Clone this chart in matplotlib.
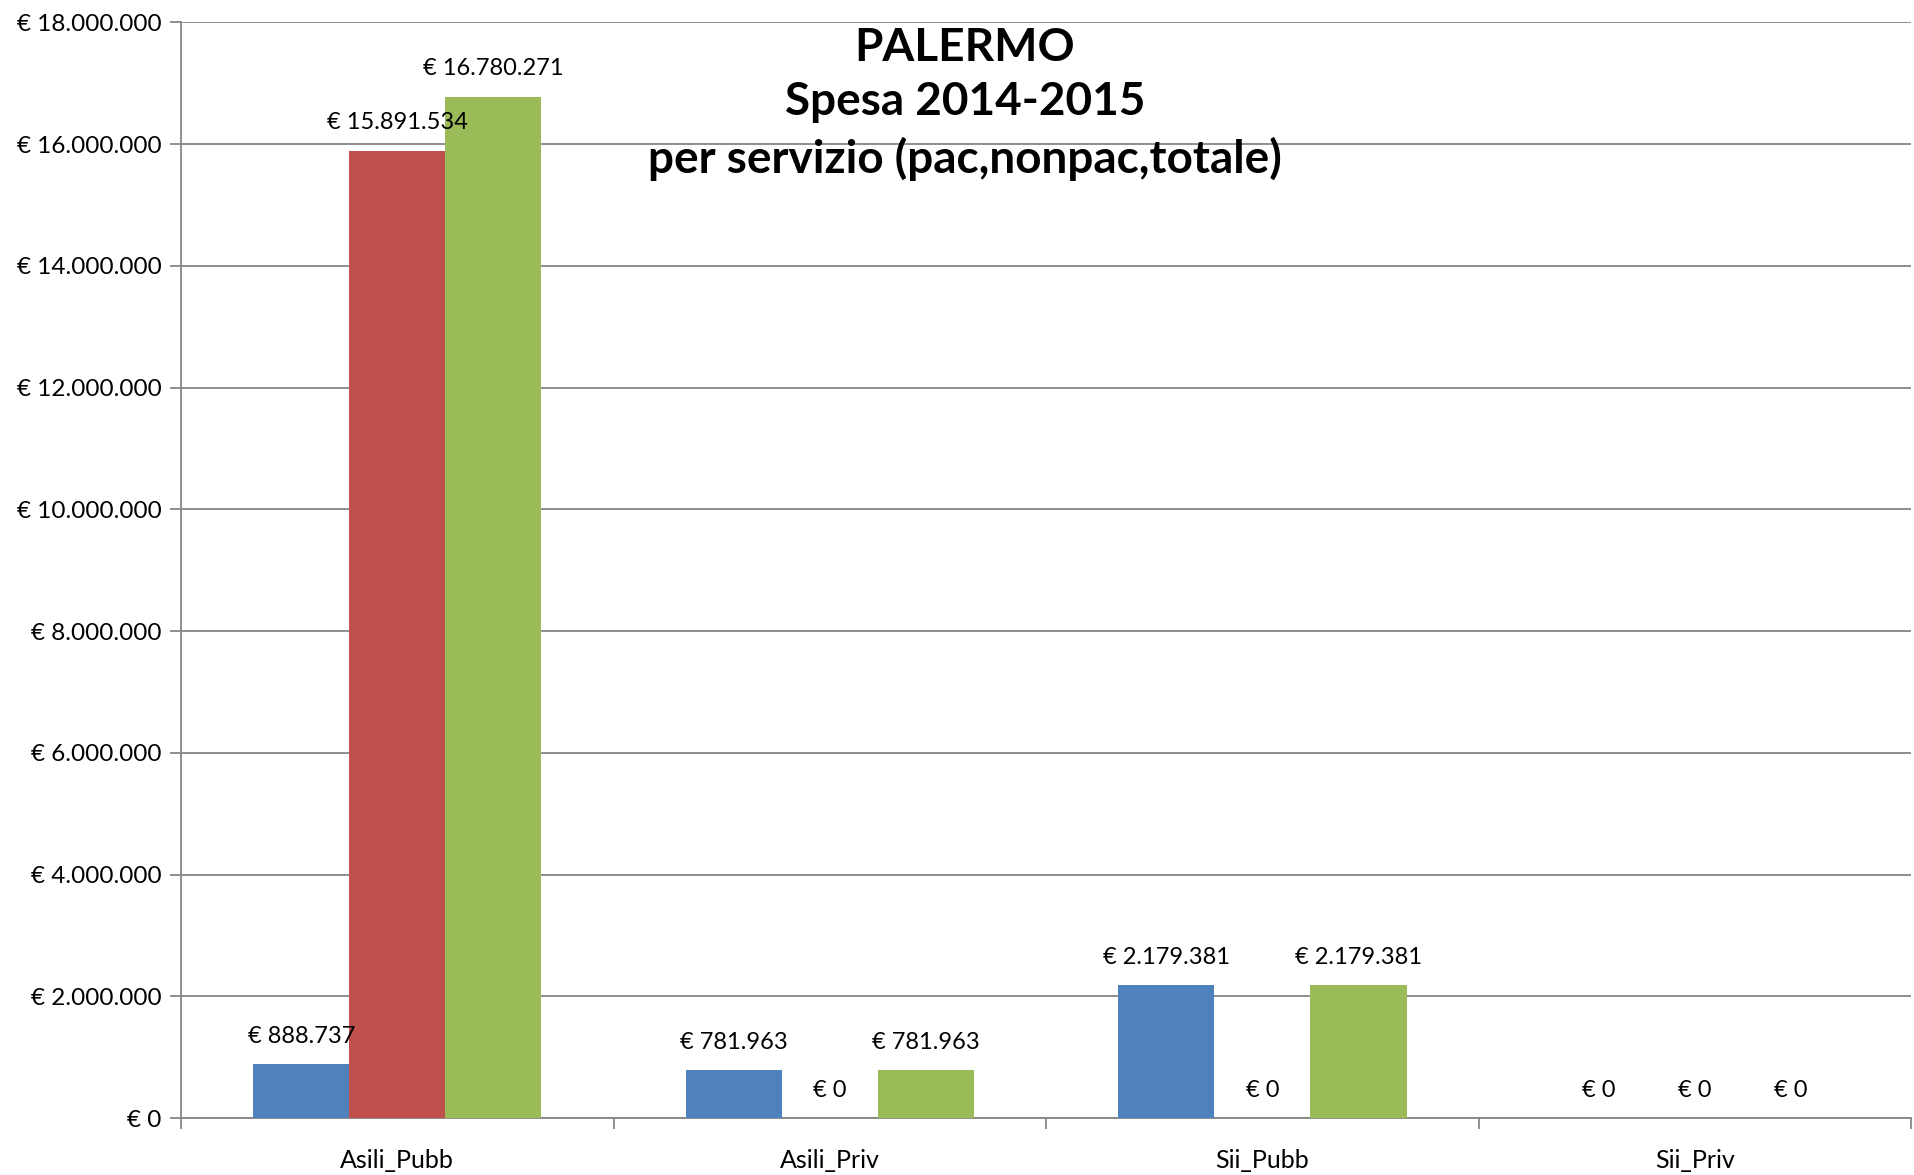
import numpy as np
import matplotlib.pyplot as plt
from matplotlib.ticker import FuncFormatter

plt.rcParams['font.family'] = ['Lato', 'DejaVu Sans']

categorie = ["Asili_Pubb", "Asili_Priv", "Sii_Pubb", "Sii_Priv"]
spesa_pac = [888737, 781963, 2179381, 0]
spesa_nonpac = [15891534, 0, 0, 0]
spesa_totale = [16780271, 781963, 2179381, 0]

COLORI = ["#4F81BD", "#C0504D", "#9BBB59"]
GRIGIO = "#868686"


def euro(v, pos=None):
    return "€ " + f"{int(round(v)):,}".replace(",", ".")


fig = plt.figure(figsize=(19.14, 11.75), dpi=100)
ax = fig.add_axes([0.0946, 0.0485, 0.904, 0.9325])

x = np.arange(len(categorie))
w = 0.222
serie = [spesa_pac, spesa_nonpac, spesa_totale]
for i, (vals, col) in enumerate(zip(serie, COLORI)):
    pos = x + (i - 1) * w
    ax.bar(pos, vals, width=w, color=col, zorder=3)
    for xp, v in zip(pos, vals):
        ax.annotate(euro(v), (xp, v), xytext=(0, 20), textcoords="offset points",
                    ha="center", va="center", fontsize=17, zorder=4)

ax.set_xlim(-0.5, len(categorie) - 0.5)
ax.set_ylim(0, 18000000)
ax.set_yticks(np.arange(0, 18000001, 2000000))
ax.yaxis.set_major_formatter(FuncFormatter(euro))
ax.yaxis.grid(True, color=GRIGIO, linewidth=1.3, zorder=0)

ax.set_xticks(x)
ax.set_xticklabels(categorie)
ax.set_xticks(np.arange(-0.5, len(categorie)), minor=True)
ax.tick_params(axis="x", which="major", length=0, pad=22, labelsize=18)
ax.tick_params(axis="x", which="minor", length=8, width=1.3, color=GRIGIO)
ax.tick_params(axis="y", length=8, width=1.3, color=GRIGIO, labelsize=17.5, pad=6)

for s in ["top", "right"]:
    ax.spines[s].set_visible(False)
for s in ["left", "bottom"]:
    ax.spines[s].set_color(GRIGIO)
    ax.spines[s].set_linewidth(1.3)

ax.text(0.453, 0.996, "PALERMO\nSpesa 2014-2015\nper servizio (pac,nonpac,totale)",
        transform=ax.transAxes, ha="center", va="top", fontsize=33,
        fontweight="bold", linespacing=1.37)

fig.savefig("out.png", dpi=100)
